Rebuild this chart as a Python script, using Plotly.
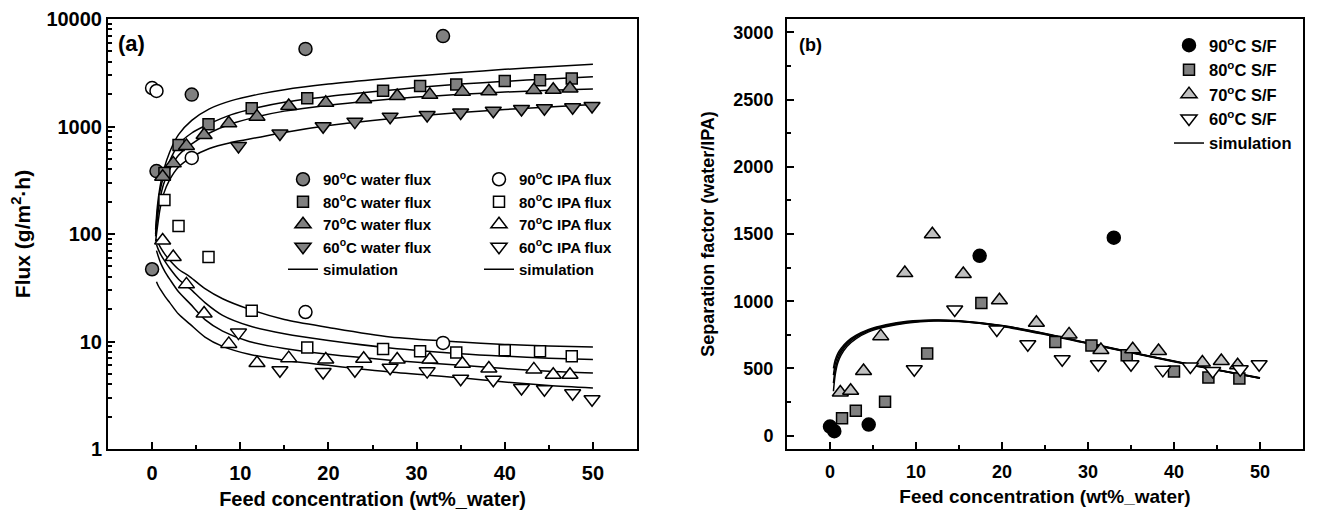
import plotly.graph_objects as go

# ---------------- data ----------------
x90 = [0, 0.5, 4.5, 17.4, 33.0]
water90 = [47, 385, 1980, 5270, 6930]
ipa90 = [2280, 2140, 510, 18.8, 9.7]
sf90 = [67, 33, 82, 1338, 1473]

x80 = [1.4, 3.0, 6.4, 11.3, 17.6, 26.2, 30.4, 34.5, 40.0, 44.0, 47.6]
water80 = [370, 673, 1050, 1480, 1830, 2150, 2380, 2460, 2650, 2700, 2800]
ipa80 = [207, 119, 61, 19.3, 8.8, 8.5, 8.1, 7.9, 8.3, 8.1, 7.3]
sf80 = [129, 185, 252, 610, 987, 696, 671, 597, 477, 432, 425]

x70 = [1.2, 2.4, 3.9, 5.9, 8.7, 11.9, 15.5, 19.7, 24.0, 27.8, 31.5, 35.2, 38.2, 43.3, 45.5, 47.4]
water70 = [341, 454, 660, 835, 1070, 1235, 1550, 1660, 1790, 1920, 1970, 2100, 2130, 2180, 2200, 2260]
ipa70 = [87, 61, 34, 18.2, 9.5, 6.3, 7.0, 6.8, 6.9, 6.8, 6.8, 6.2, 5.6, 5.5, 4.9, 4.9]
sf70 = [321, 333, 481, 740, 1209, 1498, 1202, 1007, 839, 753, 637, 642, 629, 543, 555, 523]

x60 = [9.8, 14.5, 19.4, 23.0, 27.0, 31.2, 35.0, 38.7, 41.9, 44.5, 47.7, 49.9]
water60 = [660, 860, 1005, 1110, 1235, 1280, 1350, 1400, 1455, 1480, 1510, 1550]
ipa60 = [12.1, 5.4, 5.2, 5.4, 5.7, 5.3, 4.5, 4.4, 3.7, 3.6, 3.3, 2.9]
sf60 = [494, 938, 790, 679, 568, 531, 531, 489, 514, 481, 494, 531]

# simulation curves
simx_w = [0.4, 0.6, 0.9, 1.3, 2, 3, 4.5, 6.5, 9, 12, 15, 20, 25, 30, 35, 40, 45, 50]
sim_w90 = [110, 180, 275, 390, 580, 840, 1140, 1460, 1740, 1990, 2200, 2480, 2720, 2950, 3180, 3400, 3600, 3800]
sim_w80 = [100, 160, 250, 340, 480, 680, 870, 1060, 1290, 1500, 1680, 1900, 2100, 2300, 2480, 2630, 2770, 2900]
sim_w70 = [95, 140, 210, 290, 400, 540, 690, 870, 1060, 1240, 1390, 1580, 1740, 1880, 1990, 2090, 2170, 2230]
sim_w60 = [85, 115, 170, 235, 320, 420, 520, 625, 710, 790, 880, 1020, 1140, 1250, 1350, 1440, 1520, 1600]

simx_i = [0.5, 0.7, 1, 1.5, 2, 3, 4.3, 6, 8, 11, 15, 20, 27, 35, 40, 45, 50]
sim_i90 = [90, 82, 74, 64, 57, 47, 40, 31, 25, 20, 16, 13.5, 11, 9.9, 9.4, 9.1, 8.9]
sim_i80 = [80, 72, 64, 55, 48, 38, 31, 23, 17.5, 14, 11.8, 10.2, 8.7, 7.7, 7.3, 7.0, 6.8]
sim_i70 = [70, 62, 53, 44, 38, 29, 22.5, 16, 12.5, 10, 8.6, 7.6, 6.7, 6.0, 5.6, 5.3, 5.1]
sim_i60 = [36, 33, 30, 26, 23, 18, 14.5, 11, 9, 7.6, 6.7, 6.0, 5.2, 4.6, 4.2, 3.9, 3.7]

simx_sf = [0.4, 0.6, 0.9, 1.3, 2, 3, 4.5, 6.5, 9, 12, 15, 20, 25, 30, 35, 40, 45, 50]
sim_sf90 = [500, 560, 610, 650, 700, 745, 790, 825, 850, 860, 855, 820, 760, 690, 620, 555, 490, 430]
sim_sf80 = [450, 530, 590, 635, 690, 740, 785, 820, 845, 858, 852, 818, 758, 688, 620, 553, 490, 428]
sim_sf70 = [390, 490, 565, 620, 680, 730, 780, 815, 842, 855, 850, 815, 755, 686, 618, 552, 488, 427]
sim_sf60 = [330, 450, 540, 600, 665, 720, 772, 810, 838, 852, 848, 812, 752, 684, 616, 550, 487, 426]

yticks_left = [1, 10, 100, 1000, 10000]
yticklabels_left = ["1", "10", "100", "1000", "10000"]
yminor_left = [m * d for d in (1, 10, 100, 1000) for m in range(2, 10)]
xticks = [0, 10, 20, 30, 40, 50]
yticks_right = [0, 500, 1000, 1500, 2000, 2500, 3000]

# ---------------- styling ----------------
FONT = "Liberation Sans, Arial, sans-serif"
GRAY = "#808080"
LGRAY = "#c0c0c0"
PAGE_MARGIN = 8                 # default body margin of the html page
W, H = 1328 - 2 * PAGE_MARGIN, 523 - 2 * PAGE_MARGIN

fig = go.Figure()

def sim_line(x, y, xa, ya, show, leg, name="simulation"):
    fig.add_trace(go.Scatter(
        x=x, y=y, mode="lines", xaxis=xa, yaxis=ya,
        line=dict(color="black", width=1.5, shape="spline", smoothing=0.8),
        name=name, showlegend=show, legend=leg, legendrank=10, hoverinfo="skip"))

def pts(x, y, xa, ya, sym, size, fill, name, leg, rank):
    fig.add_trace(go.Scatter(
        x=x, y=y, mode="markers", xaxis=xa, yaxis=ya, name=name,
        marker=dict(symbol=sym, size=size, color=fill,
                    line=dict(color="black", width=1.5)),
        legend=leg, legendrank=rank))

sim_line(simx_w, sim_w90, "x", "y", True, "legend")
for s in (sim_w80, sim_w70, sim_w60):
    sim_line(simx_w, s, "x", "y", False, "legend")
sim_line(simx_i, sim_i90, "x", "y", True, "legend2")
for s in (sim_i80, sim_i70, sim_i60):
    sim_line(simx_i, s, "x", "y", False, "legend2")

sup = "<sup>o</sup>"
pts(x90, water90, "x", "y", "circle", 13, GRAY, f"90{sup}C water flux", "legend", 1)
pts(x80, water80, "x", "y", "square", 11, GRAY, f"80{sup}C water flux", "legend", 2)
pts(x70, water70, "x", "y", "triangle-up", 14, GRAY, f"70{sup}C water flux", "legend", 3)
pts(x60, water60, "x", "y", "triangle-down", 14, GRAY, f"60{sup}C water flux", "legend", 4)
pts(x90, ipa90, "x", "y", "circle", 13, "white", f"90{sup}C IPA flux", "legend2", 1)
pts(x80, ipa80, "x", "y", "square", 11, "white", f"80{sup}C IPA flux", "legend2", 2)
pts(x70, ipa70, "x", "y", "triangle-up", 14, "white", f"70{sup}C IPA flux", "legend2", 3)
pts(x60, ipa60, "x", "y", "triangle-down", 14, "white", f"60{sup}C IPA flux", "legend2", 4)

sim_line(simx_sf, sim_sf90, "x2", "y2", True, "legend3")
for s in (sim_sf80, sim_sf70, sim_sf60):
    sim_line(simx_sf, s, "x2", "y2", False, "legend3")
pts(x90, sf90, "x2", "y2", "circle", 13, "black", f"90{sup}C S/F", "legend3", 1)
pts(x80, sf80, "x2", "y2", "square", 11, GRAY, f"80{sup}C S/F", "legend3", 2)
pts(x70, sf70, "x2", "y2", "triangle-up", 14, LGRAY, f"70{sup}C S/F", "legend3", 3)
pts(x60, sf60, "x2", "y2", "triangle-down", 14, "white", f"60{sup}C S/F", "legend3", 4)

# convert window pixel positions to paper fractions
def px_x(p):
    return (p - PAGE_MARGIN) / W

def px_y(p):
    return 1 - (p - PAGE_MARGIN) / H

axis_common = dict(showline=True, linecolor="black", linewidth=2, mirror=True,
                   showgrid=False, zeroline=False, ticks="inside",
                   tickcolor="black", tickwidth=1.5, ticklen=7)
minor_common = dict(ticks="inside", ticklen=4, tickwidth=1.5, tickcolor="black", showgrid=False)

ydom = [px_y(449), px_y(19)]
fig.update_layout(
    width=W, height=H,
    margin=dict(l=0, r=0, t=0, b=0, autoexpand=False),
    paper_bgcolor="white", plot_bgcolor="white",
    font=dict(family=FONT, color="black", size=16, weight="bold"),
    xaxis=dict(domain=[px_x(108), px_x(637)], range=[-5, 55], tickvals=xticks,
               tickfont=dict(size=20, weight="bold"), ticklabelstandoff=5,
               minor=dict(dtick=5, **minor_common),
               title=dict(text="Feed concentration (wt%_water)", font=dict(size=20, weight="bold"), standoff=9),
               anchor="y", **axis_common),
    yaxis=dict(domain=ydom, type="log", range=[0, 4], tickvals=yticks_left,
               ticktext=yticklabels_left, tickfont=dict(size=20, weight="bold"),
               minor=dict(tickvals=yminor_left, **minor_common),
               title=dict(text="Flux (g/m<sup>2</sup>·h)", font=dict(size=21, weight="bold"), standoff=18),
               anchor="x", **axis_common),
    xaxis2=dict(domain=[px_x(787), px_x(1303)], range=[-5, 55], tickvals=xticks,
                tickfont=dict(size=18, weight="bold"), ticklabelstandoff=5,
                minor=dict(dtick=5, **minor_common),
                title=dict(text="Feed concentration (wt%_water)", font=dict(size=19, weight="bold"), standoff=9),
                anchor="y2", **axis_common),
    yaxis2=dict(domain=ydom, range=[-100, 3100], tickvals=yticks_right,
                tickfont=dict(size=18, weight="bold"), ticklabelstandoff=8,
                minor=dict(dtick=250, **minor_common),
                title=dict(text="Separation factor (water/IPA)", font=dict(size=18, weight="bold"), standoff=14),
                anchor="x2", **axis_common),
    legend=dict(x=px_x(283), y=px_y(163), xanchor="left", yanchor="top",
                bgcolor="rgba(0,0,0,0)", font=dict(size=15, weight="bold"),
                tracegroupgap=0, itemwidth=30),
    legend2=dict(x=px_x(479), y=px_y(163), xanchor="left", yanchor="top",
                 bgcolor="rgba(0,0,0,0)", font=dict(size=15, weight="bold"),
                 tracegroupgap=0, itemwidth=30),
    legend3=dict(x=px_x(1169), y=px_y(28), xanchor="left", yanchor="top",
                 bgcolor="rgba(0,0,0,0)", font=dict(size=16.5, weight="bold"),
                 tracegroupgap=0, itemwidth=30),
    annotations=[
        dict(text="(a)", x=px_x(116), y=px_y(43), xref="paper", yref="paper",
             xanchor="left", yanchor="middle", showarrow=False,
             font=dict(size=22, weight="bold")),
        dict(text="(b)", x=px_x(797), y=px_y(45), xref="paper", yref="paper",
             xanchor="left", yanchor="middle", showarrow=False,
             font=dict(size=18, weight="bold")),
    ],
)

fig.write_html("out.html")
